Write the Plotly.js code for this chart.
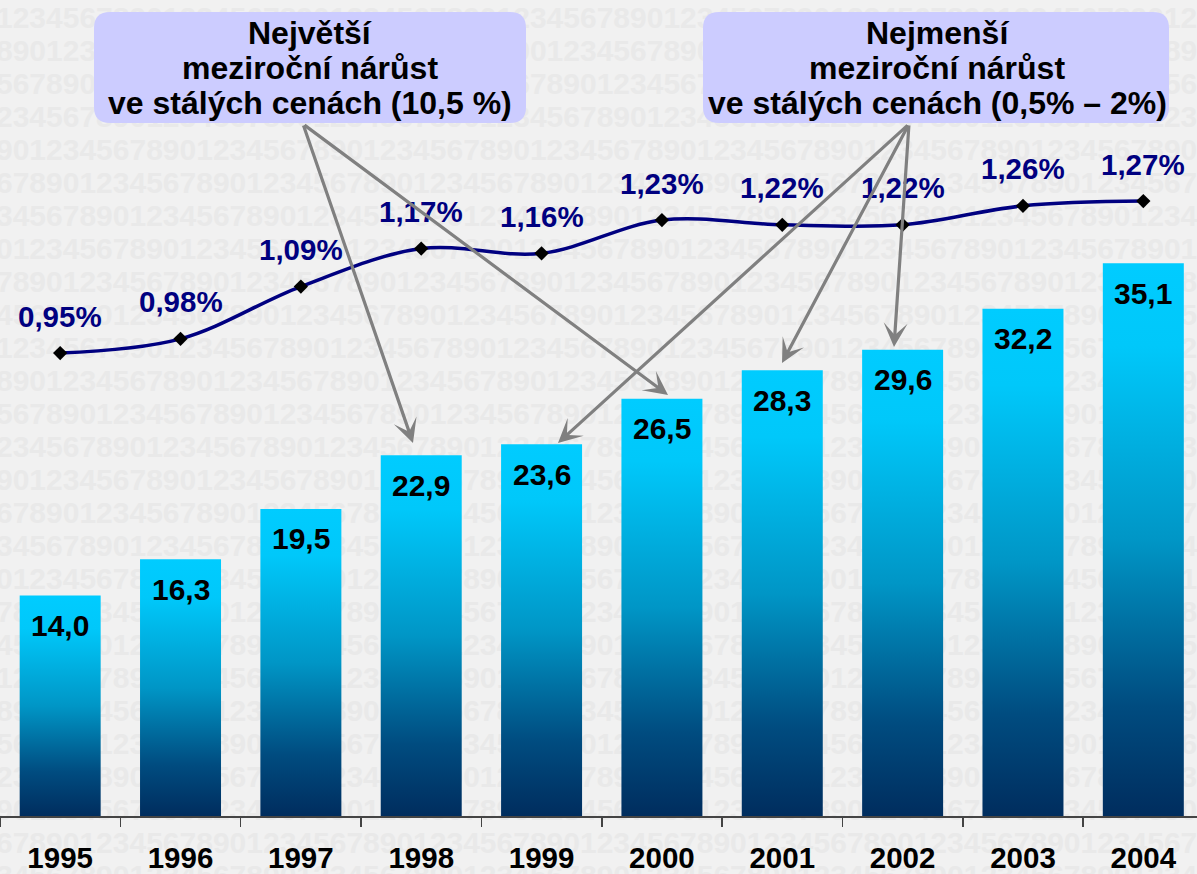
<!DOCTYPE html>
<html>
<head>
<meta charset="utf-8">
<script src="https://cdn.plot.ly/plotly-3.0.1.min.js"></script>
<style>
  html, body { margin: 0; padding: 0; background: #f0f0f0; }
  #chart { width: 1197px; height: 874px; }
</style>
</head>
<body>
<div id="chart"></div>
<script>
// ---- data ----
const years = ['1995','1996','1997','1998','1999','2000','2001','2002','2003','2004'];
const barValues = [14.0, 16.3, 19.5, 22.9, 23.6, 26.5, 28.3, 29.6, 32.2, 35.1];
const shareValues = [0.95, 0.98, 1.09, 1.17, 1.16, 1.23, 1.22, 1.22, 1.26, 1.27];
const box1Lines = ['Největší', 'meziroční nárůst', 've stálých cenách (10,5 %)'];
const box2Lines = ['Nejmenší', 'meziroční nárůst', 've stálých cenách (0,5% – 2%)'];

// ---- geometry helpers (page pixels -> paper fractions) ----
const W = 1197, H = 874, PLOT_H = 816;
const px = x => x / W;
const py = y => (PLOT_H - y) / PLOT_H;
const fmt = (v, d) => v.toFixed(d).replace('.', ',');

const FONT = 'Liberation Sans, Arial, sans-serif';

// faint decorative digit texture for the background
function textureSVG() {
  const seq = '1234567890';
  let rows = '';
  for (let r = 0; r < 28; r++) {
    let s = '';
    const off = (r * 7) % 10;
    for (let k = 0; k < 8; k++) s += seq;
    s = s.slice(off) + s.slice(0, off);
    rows += `<text x="-4" y="${28 + r * 33}">${s}</text>`;
  }
  const svg = `<svg xmlns="http://www.w3.org/2000/svg" width="${W}" height="${H}">` +
    `<rect width="100%" height="100%" fill="#f1f1f1"/>` +
    `<g font-family="Liberation Sans, Arial" font-weight="bold" font-size="30" fill="#e9e9e9">${rows}</g></svg>`;
  return 'data:image/svg+xml;charset=utf-8,' + encodeURIComponent(svg);
}

const bars = {
  type: 'bar',
  x: years,
  y: barValues,
  marker: { color: '#00a0d0', line: { width: 0 } },
  hoverinfo: 'skip',
  yaxis: 'y'
};

const line = {
  type: 'scatter',
  mode: 'lines+markers',
  x: years,
  y: shareValues,
  yaxis: 'y2',
  line: { color: '#000080', width: 3.5, shape: 'spline', smoothing: 1 },
  marker: { symbol: 'diamond', size: 11, color: '#000000' },
  hoverinfo: 'skip'
};

const annotations = [];

// bar value labels (category index used as x position)
barValues.forEach((v, i) => {
  annotations.push({
    x: i, y: v, xref: 'x', yref: 'y',
    text: fmt(v, 1), showarrow: false, yanchor: 'middle', yshift: -30,
    font: { family: FONT, size: 30, color: '#000000', weight: 'bold' }
  });
});

// line value labels
shareValues.forEach((v, i) => {
  annotations.push({
    x: i, y: v, xref: 'x', yref: 'y2',
    text: fmt(v, 2) + '%', showarrow: false, yanchor: 'middle', yshift: 37,
    font: { family: FONT, size: 29.5, color: '#000080', weight: 'bold' }
  });
});

// callout box texts
const lineY = [33, 68, 103];
box1Lines.forEach((t, k) => {
  annotations.push({
    xref: 'paper', yref: 'paper', x: px(310), y: py(lineY[k]),
    text: t, showarrow: false, xanchor: 'center', yanchor: 'middle',
    font: { family: FONT, size: 32, color: '#000000', weight: 'bold' }
  });
});
box2Lines.forEach((t, k) => {
  annotations.push({
    xref: 'paper', yref: 'paper', x: px(937), y: py(lineY[k]),
    text: t, showarrow: false, xanchor: 'center', yanchor: 'middle',
    font: { family: FONT, size: 32, color: '#000000', weight: 'bold' }
  });
});

// arrows: [tipX, tipY, tailX, tailY] in page pixels
const arrows = [
  [413, 443, 303, 124],
  [668, 395, 303, 124],
  [558, 443, 909, 124],
  [782, 363, 909, 124],
  [894, 347, 909, 124]
];
arrows.forEach(a => {
  annotations.push({
    xref: 'paper', yref: 'paper', x: px(a[0]), y: py(a[1]),
    ax: a[2] - a[0], ay: a[3] - a[1],
    text: '', showarrow: true, arrowhead: 3, arrowsize: 1.25, arrowwidth: 3.2,
    arrowcolor: '#808080'
  });
});

// rounded boxes
function roundRect(x0, y0, x1, y1, r) {
  const X = v => px(v), Y = v => py(v);
  return `M${X(x0 + r)},${Y(y0)} L${X(x1 - r)},${Y(y0)} Q${X(x1)},${Y(y0)} ${X(x1)},${Y(y0 + r)} ` +
         `L${X(x1)},${Y(y1 - r)} Q${X(x1)},${Y(y1)} ${X(x1 - r)},${Y(y1)} ` +
         `L${X(x0 + r)},${Y(y1)} Q${X(x0)},${Y(y1)} ${X(x0)},${Y(y1 - r)} ` +
         `L${X(x0)},${Y(y0 + r)} Q${X(x0)},${Y(y0)} ${X(x0 + r)},${Y(y0)} Z`;
}
const shapes = [
  { type: 'path', xref: 'paper', yref: 'paper', path: roundRect(94, 12, 526, 123, 16),
    fillcolor: '#ccccff', line: { width: 0 }, layer: 'above' },
  { type: 'path', xref: 'paper', yref: 'paper', path: roundRect(703, 12, 1169, 123, 16),
    fillcolor: '#ccccff', line: { width: 0 }, layer: 'above' }
];

const layout = {
  width: W, height: H,
  margin: { l: 0, r: 0, t: 0, b: 58, pad: 0 },
  paper_bgcolor: '#f0f0f0',
  plot_bgcolor: 'rgba(0,0,0,0)',
  showlegend: false,
  bargap: 0.327,
  images: [{
    source: textureSVG(), xref: 'paper', yref: 'paper',
    x: 0, y: 1, sizex: 1, sizey: H / PLOT_H, xanchor: 'left', yanchor: 'top',
    sizing: 'stretch', layer: 'below'
  }],
  xaxis: {
    type: 'category',
    range: [-0.5, 9.446],
    tickson: 'boundaries',
    ticks: 'outside', ticklen: 9, tickwidth: 1.5, tickcolor: '#444444',
    showline: true, linecolor: '#444444', linewidth: 1.5,
    showgrid: false, zeroline: false,
    ticklabelstandoff: 15,
    tickfont: { family: FONT, size: 29.5, color: '#000000', weight: 'bold' },
    fixedrange: true
  },
  yaxis: {
    range: [0, PLOT_H / 15.75],
    visible: false, showgrid: false, zeroline: false, fixedrange: true
  },
  yaxis2: {
    range: [-0.0246, 1.6933],
    overlaying: 'y',
    visible: false, showgrid: false, zeroline: false, fixedrange: true
  },
  annotations: annotations,
  shapes: shapes
};

const gd = document.getElementById('chart');
Plotly.newPlot(gd, [bars, line], layout, { staticPlot: true, displayModeBar: false }).then(() => {
  const NS = 'http://www.w3.org/2000/svg';
  const svg = gd.querySelector('svg.main-svg');
  let defs = svg.querySelector('defs');
  if (!defs) { defs = document.createElementNS(NS, 'defs'); svg.insertBefore(defs, svg.firstChild); }
  const grad = document.createElementNS(NS, 'linearGradient');
  grad.setAttribute('id', 'barGrad');
  grad.setAttribute('x1', '0'); grad.setAttribute('y1', '0');
  grad.setAttribute('x2', '0'); grad.setAttribute('y2', '1');
  [[0, '#00ccff'], [0.15, '#00c8fa'], [0.5, '#0096c6'], [0.8, '#004c80'], [1, '#002d5e']].forEach(s => {
    const st = document.createElementNS(NS, 'stop');
    st.setAttribute('offset', s[0]);
    st.setAttribute('stop-color', s[1]);
    grad.appendChild(st);
  });
  defs.appendChild(grad);
  gd.querySelectorAll('.barlayer .point path').forEach(p => { p.style.fill = 'url(#barGrad)'; });
});
</script>
</body>
</html>
